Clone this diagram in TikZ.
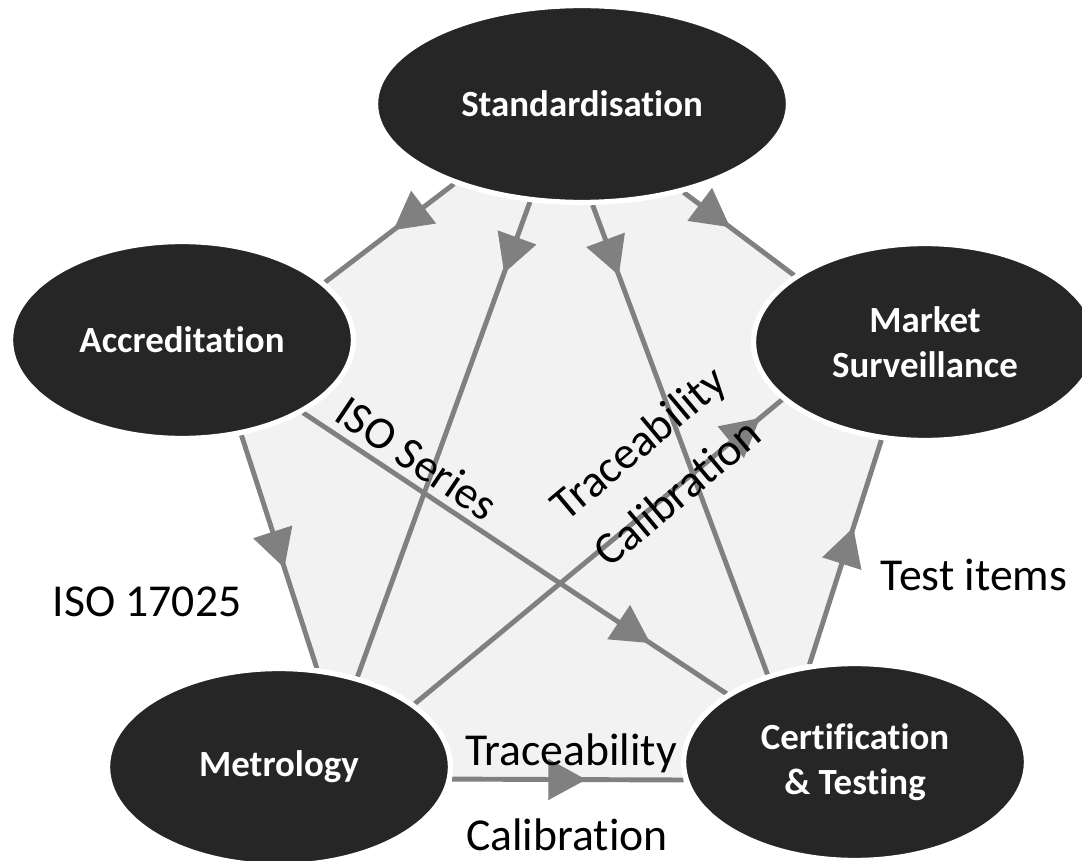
\documentclass[tikz,border=0pt]{standalone}
\usepackage{fontspec}
\setmainfont{Carlito}[Ligatures=CommonOff]
\usetikzlibrary{shapes.geometric, arrows.meta, backgrounds, decorations.markings}

\begin{document}
\begin{tikzpicture}[
		x=0.02cm, y=-0.02cm,
		% Styles
		bodyEllipse/.style={ellipse, draw=white, line width=3pt, fill=black!85, text=white, inner sep=0pt, minimum width=6.86cm, minimum height=3.94cm, align=center, font=\fontsize{21}{25.5}\selectfont\bfseries},
		flowArrow/.style={draw=gray, line width=2.8pt, postaction={decorate}, decoration={markings, mark=at position #1 with {\arrow{Triangle[length=0.76cm, width=0.8cm, color=gray]}}}},
		flowLabel/.style={font=\fontsize{26}{31}\selectfont, text=black, inner sep=0pt}
		]
		
		\useasboundingbox (0,0) rectangle (1082,861);
		
		% =========================================================
		% 1. THE FIVE BODIES
		% =========================================================
		\node[bodyEllipse, minimum width=8.26cm] (Standard) at (582,104) {Standardisation};
		\node[bodyEllipse] (Accred) at (182,340) {Accreditation};
		\node[bodyEllipse] (Market) at (925,342) {Market\\Surveillance};
		\node[bodyEllipse] (Metro) at (279,767) {Metrology};
		\node[bodyEllipse] (Cert) at (855,762) {Certification\\\& Testing};
		
		% =========================================================
		% 2. BACKGROUND PENTAGON AND LINKS
		% =========================================================
		\begin{scope}[on background layer]
			\fill[black!5] (intersection of Standard.212--Accred.22 and Standard.319--Market.153)
			-- (intersection of Standard.319--Market.153 and Cert.115--Market.246)
			-- (intersection of Cert.115--Market.246 and Metro.356--Cert.186)
			-- (intersection of Metro.356--Cert.186 and Accred.302--Metro.69)
			-- (intersection of Accred.302--Metro.69 and Standard.212--Accred.22) -- cycle;
			
			% outer ring
			\draw[flowArrow=0.47] (Standard.212) -- (Accred.22);
			\draw[flowArrow=0.42] (Standard.319) -- (Market.153);
			\draw[flowArrow=0.61] (Cert.115) -- (Market.246);
			\draw[flowArrow=0.58] (Metro.356) -- (Cert.186);
			\draw[flowArrow=0.57] (Accred.302) -- (Metro.69);
			
			% inner star
			\draw[flowArrow=0.15] (Standard.242) -- (Metro.49);
			\draw[flowArrow=0.15] (Standard.276) -- (Cert.135);
			\draw[flowArrow=0.82] (Accred.329) -- (Cert.152);
			\draw[flowArrow=0.94] (Metro.25) -- (Market.202);
		\end{scope}
		
		% =========================================================
		% 3. LINK LABELS
		% =========================================================
		\node[flowLabel] (IsoLab) at (147,602) {ISO 17025};
		\node[flowLabel] (TestLab) at (974,575) {Test items};
		\node[flowLabel, anchor=base] (TraceLow) at (571,765) {Traceability};
		\node[flowLabel, anchor=base] (CalLow) at (567,850) {Calibration};
		\node[flowLabel, rotate=-34] (SeriesLab) at (417,458) {ISO Series};
		\node[flowLabel, rotate=40] (TraceDiag) at (640,445) {Traceability};
		\node[flowLabel, rotate=40] (CalDiag) at (677,492) {Calibration};
		
	\end{tikzpicture}
\end{document}
